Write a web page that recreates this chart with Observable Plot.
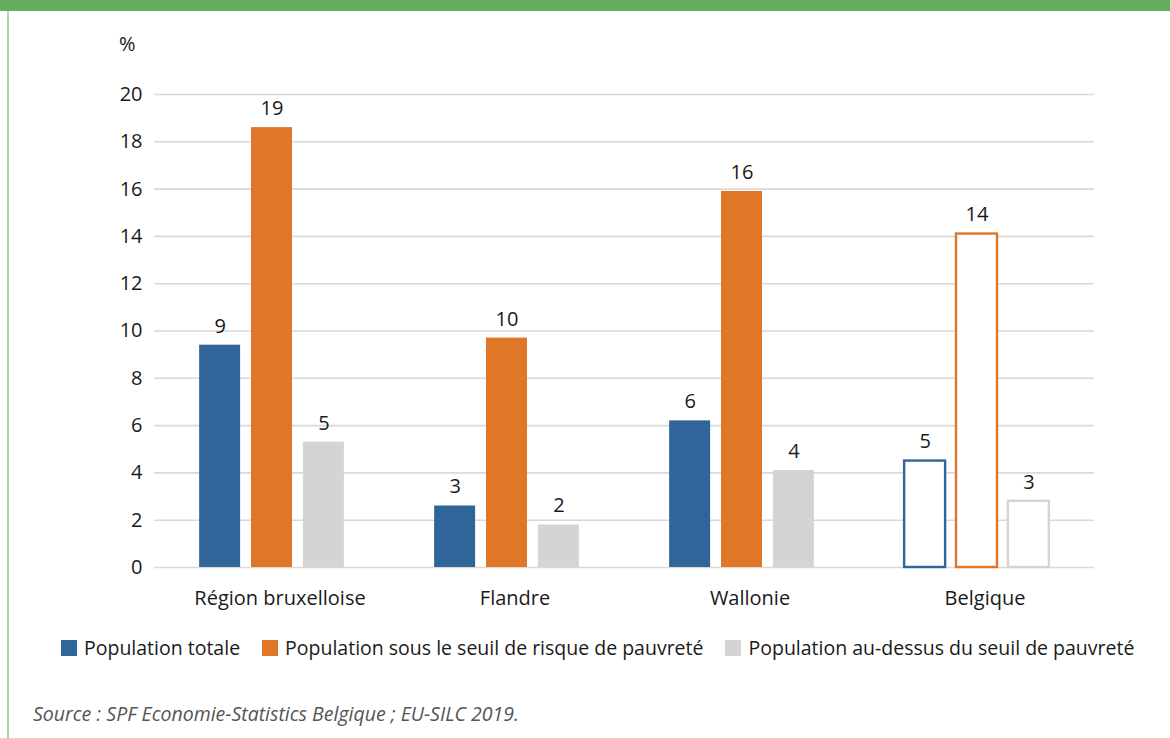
<!DOCTYPE html>
<html>
<head>
<meta charset="utf-8">
<script src="https://cdn.jsdelivr.net/npm/d3@7"></script>
<script src="https://cdn.jsdelivr.net/npm/@observablehq/plot@0.6"></script>
<style>
  html, body { margin: 0; padding: 0; background: #fff; }
  #page { position: relative; width: 1170px; height: 738px; overflow: hidden; font-family: "Open Sans", sans-serif; color: #1a1a1a; }
  #topbar { position: absolute; left: 0; top: 0; width: 1170px; height: 11px; background: #63ad5c; }
  #leftline { position: absolute; left: 7px; top: 11px; width: 2px; height: 727px; background: #a9d6a2; }
  #unit { position: absolute; left: 119px; top: 30px; font-size: 20px; }
  #chart { position: absolute; left: 0; top: 0; }
  #legend { position: absolute; left: 61px; top: 634px; display: flex; align-items: center; font-size: 19.5px; white-space: nowrap; }
  #legend .item { display: flex; align-items: center; margin-right: 22px; }
  #legend .sw { width: 16px; height: 16px; margin-right: 7px; }
  #caption { position: absolute; left: 33px; top: 700px; font-size: 19.5px; font-style: italic; color: #555; white-space: nowrap; }
</style>
</head>
<body>
<div id="page">
  <div id="topbar"></div>
  <div id="leftline"></div>
  <div id="unit">%</div>
  <div id="chart"></div>
  <div id="legend"></div>
  <div id="caption">Source : SPF Economie-Statistics Belgique ; EU-SILC 2019.</div>
</div>
<script>
// Regions and population groups
const regions = ["Région bruxelloise", "Flandre", "Wallonie", "Belgique"];
const series = [
  "Population totale",
  "Population sous le seuil de risque de pauvreté",
  "Population au-dessus du seuil de pauvreté"
];
const colors = ["#30659a", "#e07628", "#d3d4d6"];

// Share of each group (%), per region
const totale = [9.4, 2.6, 6.2, 4.5];
const sousSeuil = [18.6, 9.7, 15.9, 14.1];
const auDessus = [5.3, 1.8, 4.1, 2.8];

const yTicks = [0, 2, 4, 6, 8, 10, 12, 14, 16, 18, 20];

const valuesBySeries = [totale, sousSeuil, auDessus];
const data = [];
regions.forEach((region, i) => {
  series.forEach((s, j) => {
    data.push({region, series: s, value: valuesBySeries[j][i], color: colors[j]});
  });
});

// The national total is drawn as outlined bars
const national = "Belgique";
const filled = data.filter(d => d.region !== national);
const outlined = data.filter(d => d.region === national);

const chart = Plot.plot({
  width: 1170,
  height: 615,
  marginTop: 94,
  marginBottom: 48,
  marginLeft: 153,
  marginRight: 75,
  style: {fontFamily: "'Open Sans', sans-serif", fontSize: "20px", color: "#1a1a1a"},
  fx: {domain: regions, padding: 0, label: null},
  x: {domain: series, paddingInner: 0.21, paddingOuter: 0.87, round: false, axis: null},
  y: {domain: [0, 20], label: null},
  color: {domain: series, range: colors},
  marks: [
    Plot.ruleY(yTicks, {stroke: "#d9d9d9", strokeWidth: 1.6}),
    Plot.axisY(yTicks, {tickSize: 0, tickPadding: 12, label: null}),
    Plot.axisFx({anchor: "bottom", tickSize: 0, tickPadding: 23, dx: 8, label: null}),
    Plot.barY(filled, {fx: "region", x: "series", y: "value", fill: "series"}),
    Plot.barY(outlined, {fx: "region", x: "series", y: "value", fill: "white", stroke: "series", strokeWidth: 2.4}),
    Plot.text(data, {
      fx: "region", x: "series", y: "value",
      text: d => String(Math.round(d.value)),
      dy: -19, fill: "#1a1a1a", fontSize: 20
    })
  ]
});
document.getElementById("chart").appendChild(chart);

// Legend
const legend = document.getElementById("legend");
series.forEach((s, j) => {
  const item = document.createElement("div");
  item.className = "item";
  const sw = document.createElement("span");
  sw.className = "sw";
  sw.style.background = colors[j];
  const label = document.createElement("span");
  label.textContent = s;
  item.appendChild(sw);
  item.appendChild(label);
  legend.appendChild(item);
});
</script>
</body>
</html>
